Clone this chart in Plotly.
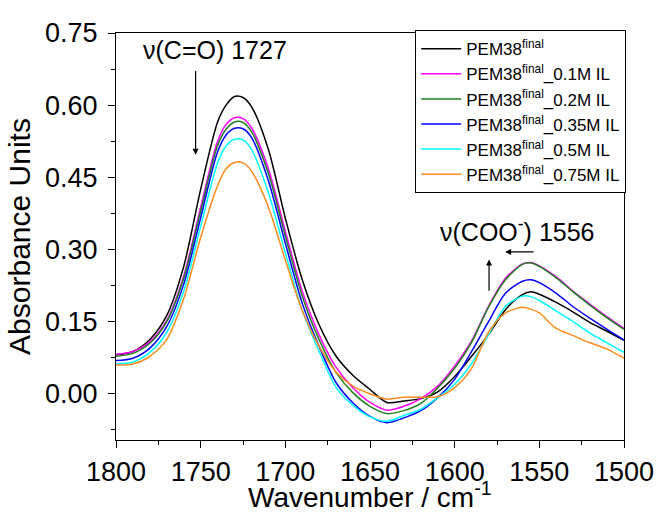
import plotly.graph_objects as go

wavenumber = [1800, 1790, 1780, 1770, 1760, 1750, 1740, 1735, 1730, 1725, 1720, 1710, 1700,
              1690, 1680, 1670, 1660, 1650, 1640, 1630, 1620, 1610, 1600, 1590, 1580, 1570,
              1560, 1555, 1550, 1540, 1530, 1520, 1510, 1500]

pem38 = [0.081, 0.088, 0.113, 0.163, 0.265, 0.425, 0.565, 0.600, 0.618, 0.616, 0.597, 0.508, 0.365,
         0.237, 0.143, 0.078, 0.038, 0.009, -0.018, -0.015, -0.010, 0.004, 0.036, 0.078, 0.123, 0.175,
         0.206, 0.212, 0.207, 0.190, 0.170, 0.148, 0.130, 0.111]
pem38_01 = [0.082, 0.088, 0.108, 0.153, 0.245, 0.388, 0.525, 0.560, 0.574, 0.572, 0.553, 0.468, 0.338,
            0.213, 0.122, 0.055, 0.012, -0.018, -0.034, -0.026, -0.010, 0.016, 0.058, 0.110, 0.182, 0.240,
            0.270, 0.273, 0.266, 0.243, 0.213, 0.186, 0.160, 0.136]
pem38_02 = [0.078, 0.084, 0.105, 0.150, 0.240, 0.380, 0.516, 0.550, 0.565, 0.564, 0.545, 0.458, 0.328,
            0.203, 0.112, 0.044, 0.002, -0.026, -0.041, -0.035, -0.020, 0.012, 0.053, 0.107, 0.180, 0.237,
            0.269, 0.272, 0.265, 0.241, 0.212, 0.184, 0.158, 0.134]
pem38_035 = [0.069, 0.074, 0.095, 0.140, 0.228, 0.366, 0.503, 0.538, 0.552, 0.551, 0.533, 0.443, 0.313,
             0.188, 0.098, 0.023, -0.019, -0.047, -0.060, -0.050, -0.035, -0.008, 0.030, 0.088, 0.150, 0.209,
             0.234, 0.237, 0.231, 0.209, 0.181, 0.157, 0.134, 0.112]
pem38_05 = [0.062, 0.066, 0.086, 0.128, 0.213, 0.348, 0.480, 0.515, 0.529, 0.528, 0.508, 0.418, 0.293,
            0.173, 0.088, 0.013, -0.024, -0.048, -0.057, -0.045, -0.032, -0.008, 0.020, 0.063, 0.123, 0.182,
            0.203, 0.202, 0.194, 0.172, 0.150, 0.126, 0.106, 0.086]
pem38_075 = [0.060, 0.062, 0.078, 0.113, 0.198, 0.325, 0.433, 0.468, 0.481, 0.480, 0.463, 0.388, 0.278,
             0.173, 0.098, 0.045, 0.016, 0.000, -0.011, -0.007, -0.007, -0.006, 0.013, 0.053, 0.128, 0.168,
             0.180, 0.176, 0.168, 0.136, 0.121, 0.106, 0.093, 0.074]

series_names = ["PEM38<sup>final</sup>", "PEM38<sup>final</sup>_0.1M IL", "PEM38<sup>final</sup>_0.2M IL",
                "PEM38<sup>final</sup>_0.35M IL", "PEM38<sup>final</sup>_0.5M IL", "PEM38<sup>final</sup>_0.75M IL"]
series_values = [pem38, pem38_01, pem38_02, pem38_035, pem38_05, pem38_075]
series_colors = ["#000000", "#FF00FF", "#1E7F1E", "#0000FF", "#00FFFF", "#FF8A1C"]

y_ticks = [0.0, 0.15, 0.30, 0.45, 0.60, 0.75]
y_tick_labels = ["0.00", "0.15", "0.30", "0.45", "0.60", "0.75"]
x_ticks = [1800, 1750, 1700, 1650, 1600, 1550, 1500]

FONT = "Liberation Sans, Arial, sans-serif"

fig = go.Figure()
for name, vals, col in zip(series_names, series_values, series_colors):
    fig.add_trace(go.Scatter(x=wavenumber, y=vals, mode="lines", name=name,
                             line=dict(color=col, width=1.5, shape="spline", smoothing=0.8)))

axis_common = dict(showline=True, linecolor="black", linewidth=1.2, mirror=True,
                   ticks="outside", ticklen=7, tickwidth=1.2, tickcolor="black",
                   showgrid=False, zeroline=False, automargin=False,
                   tickfont=dict(family=FONT, size=27, color="black"))

fig.update_layout(
    width=660, height=516,
    margin=dict(l=116, r=36, t=33, b=76),
    plot_bgcolor="white", paper_bgcolor="white",
    font=dict(family=FONT, color="black"),
    xaxis=dict(range=[1800, 1500], tickvals=x_ticks,
               minor=dict(dtick=25, ticklen=4, tickwidth=1.2, ticks="outside", tickcolor="black"),
               **axis_common),
    yaxis=dict(range=[-0.096, 0.75], tickvals=y_ticks, ticktext=y_tick_labels,
               ticklabelstandoff=5,
               minor=dict(tickvals=[-0.075, 0.075, 0.225, 0.375, 0.525, 0.675], ticklen=4, tickwidth=1.2,
                          ticks="outside", tickcolor="black"),
               title=dict(text="Absorbance Units", font=dict(family=FONT, size=30), standoff=5),
               **axis_common),
    legend=dict(x=0.589, y=1.007, xanchor="left", yanchor="top",
                bgcolor="white", bordercolor="black", borderwidth=1,
                font=dict(family=FONT, size=17, color="black"),
                tracegroupgap=0, itemwidth=40),
    showlegend=True,
)

# x-axis title placed just below the tick labels
fig.add_annotation(x=0.5, y=-0.1843, xref="paper", yref="paper", xanchor="center", yanchor="bottom",
                   text="Wavenumber / cm<sup>-1</sup>", showarrow=False,
                   font=dict(family=FONT, size=28, color="black"))

fig.add_annotation(x=1741.5, y=0.715, xref="x", yref="y", text="ν(C=O) 1727",
                   showarrow=False, font=dict(family=FONT, size=25, color="black"))
fig.add_annotation(x=1563, y=0.341, xref="x", yref="y", text="ν(COO<sup>-</sup>) 1556",
                   showarrow=False, font=dict(family=FONT, size=25, color="black"))

arrow_style = dict(showarrow=True, arrowhead=2, arrowsize=1, arrowwidth=1.2, arrowcolor="black",
                   text="", xref="x", yref="y", axref="x", ayref="y")
fig.add_annotation(x=1753, y=0.497, ax=1753, ay=0.674, **arrow_style)
fig.add_annotation(x=1570.2, y=0.295, ax=1552.5, ay=0.295, **arrow_style)
fig.add_annotation(x=1579.7, y=0.279, ax=1579.7, ay=0.211, **arrow_style)

fig.write_html("out.html", config={"displayModeBar": False},
               post_script="document.body.style.margin='0px';")
